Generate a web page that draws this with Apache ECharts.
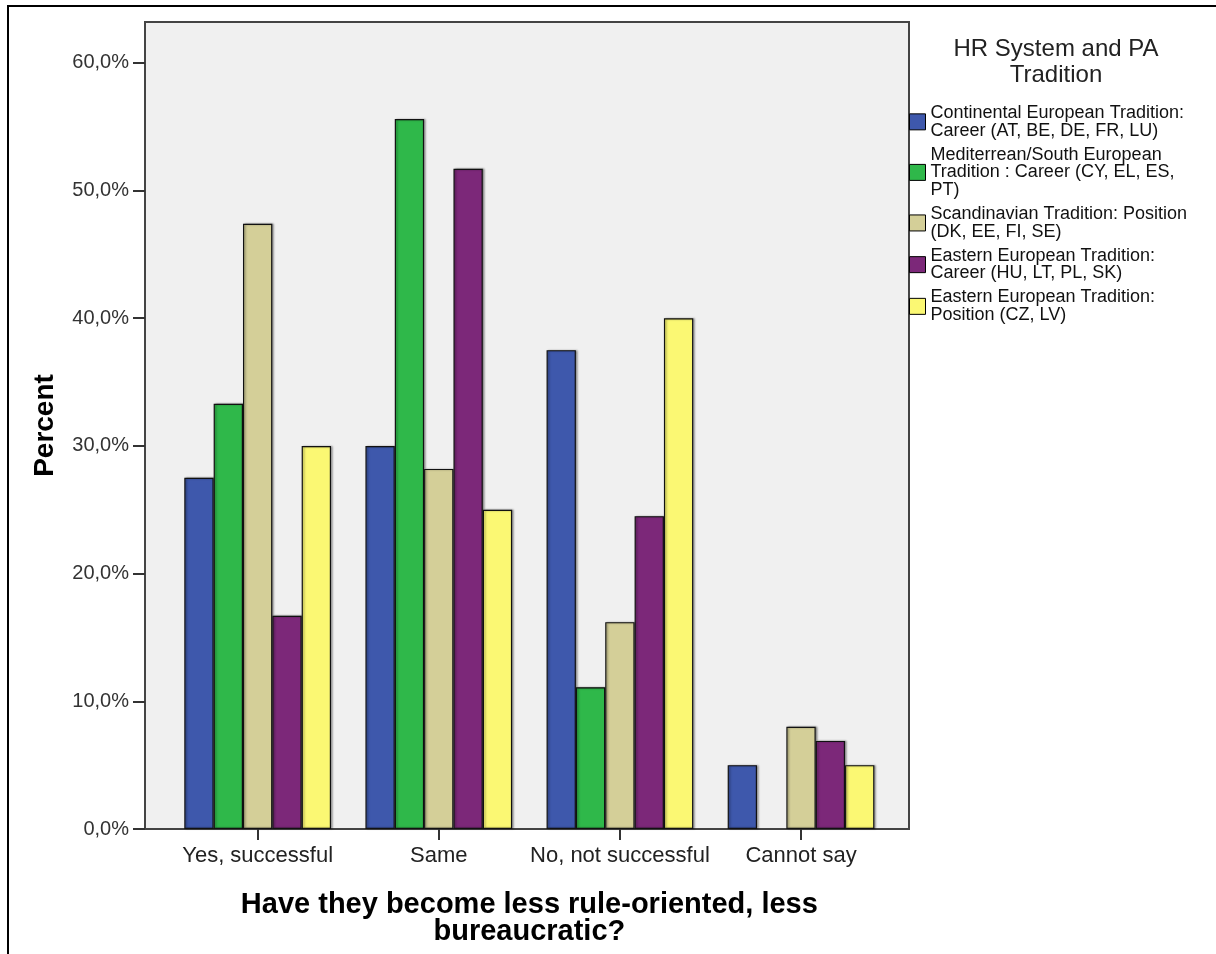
<!DOCTYPE html>
<html>
<head>
<meta charset="utf-8">
<script src="https://cdn.jsdelivr.net/npm/echarts@6/dist/echarts.min.js"></script>
<style>html,body{margin:0;padding:0;background:#fff}#c{width:1216px;height:954px}</style>
</head>
<body>
<div id="c"></div>
<script>
const categories = ['Yes, successful', 'Same', 'No, not successful', 'Cannot say'];
const seriesNames = [
  'Continental European Tradition:\nCareer (AT, BE, DE, FR, LU)',
  'Mediterrean/South European\nTradition : Career (CY, EL, ES,\nPT)',
  'Scandinavian Tradition: Position\n(DK, EE, FI, SE)',
  'Eastern European Tradition:\nCareer (HU, LT, PL, SK)',
  'Eastern European Tradition:\nPosition (CZ, LV)'
];
const continental = [27.5, 30.0, 37.5, 5.0];
const mediterranean = [33.3, 55.6, 11.1, null];
const scandinavian = [47.4, 28.2, 16.2, 8.0];
const easternCareer = [16.7, 51.7, 24.5, 6.9];
const easternPosition = [30.0, 25.0, 40.0, 5.0];
const yTicks = [0, 10, 20, 30, 40, 50, 60];
const colors = ['#3e58ac', '#2fb84a', '#d4cf98', '#7c2879', '#fbf873'];

const seriesData = [continental, mediterranean, scandinavian, easternCareer, easternPosition];
const FONT = 'Liberation Sans, Arial, sans-serif';
const chart = echarts.init(document.getElementById('c'), null, {renderer: 'canvas'});
const yMax = 63.2;
chart.setOption({
  animation: false,
  backgroundColor: '#ffffff',
  color: colors,
  graphic: [{
    type: 'rect', z: 100, silent: true,
    shape: {x: 8, y: 6, width: 1400, height: 1200},
    style: {fill: 'none', stroke: '#000', lineWidth: 2}
  }],
  title: {
    text: 'HR System and PA\nTradition',
    left: 1051, top: 31, textAlign: 'center',
    textStyle: {fontFamily: FONT, fontSize: 24, fontWeight: 'normal', color: '#222', lineHeight: 26}
  },
  legend: {
    orient: 'vertical', left: 904, top: 99, itemGap: 6,
    itemWidth: 16, itemHeight: 16, icon: 'rect',
    textStyle: {fontFamily: FONT, fontSize: 18, color: '#111', lineHeight: 17.7},
    itemStyle: {borderColor: '#000', borderWidth: 1},
    data: seriesNames
  },
  grid: [
    {left: 145, right: 307, top: 22, bottom: 125, show: true, backgroundColor: '#f0f0f0', borderColor: '#444', borderWidth: 2},
    {left: 167.1, right: 324.4, top: 22, bottom: 125}
  ],
  xAxis: [
    {gridIndex: 0, type: 'category', data: categories, show: false},
    {gridIndex: 1, type: 'category', data: categories,
     axisLine: {show: false},
     axisTick: {show: true, interval: 0, alignWithLabel: true, length: 11, lineStyle: {color: '#333', width: 2}},
     axisLabel: {interval: 0, fontFamily: FONT, fontSize: 22, color: '#222', margin: 16},
     name: 'Have they become less rule-oriented, less\nbureaucratic?',
     nameLocation: 'middle', nameGap: 62,
     nameTextStyle: {fontFamily: FONT, fontSize: 29, fontWeight: 'bold', color: '#000', lineHeight: 27}
    }
  ],
  yAxis: [
    {gridIndex: 0, type: 'value', min: 0, max: yMax, interval: 10,
     axisLine: {show: false},
     splitLine: {show: false},
     axisTick: {show: true, length: 12, customValues: yTicks, lineStyle: {color: '#333', width: 2}},
     axisLabel: {fontFamily: FONT, fontSize: 20, color: '#333', margin: 16, customValues: yTicks,
       formatter: v => v.toFixed(1).replace('.', ',') + '%'},
     name: 'Percent', nameLocation: 'middle', nameGap: 86, nameRotate: 90,
     nameTextStyle: {fontFamily: FONT, fontSize: 28, fontWeight: 'bold', color: '#000'}
    },
    {gridIndex: 1, type: 'value', min: 0, max: yMax, interval: 10, show: false, splitLine: {show: false}}
  ],
  series: seriesData.map((d, i) => ({
    name: seriesNames[i],
    type: 'bar',
    xAxisIndex: 1, yAxisIndex: 1,
    data: d,
    barGap: '0%',
    barCategoryGap: '19%',
    itemStyle: {color: colors[i], borderColor: '#111', borderWidth: 1.2,
      shadowColor: 'rgba(0,0,0,0.35)', shadowBlur: 2, shadowOffsetX: 1.5, shadowOffsetY: 0}
  }))
});
</script>
</body>
</html>
